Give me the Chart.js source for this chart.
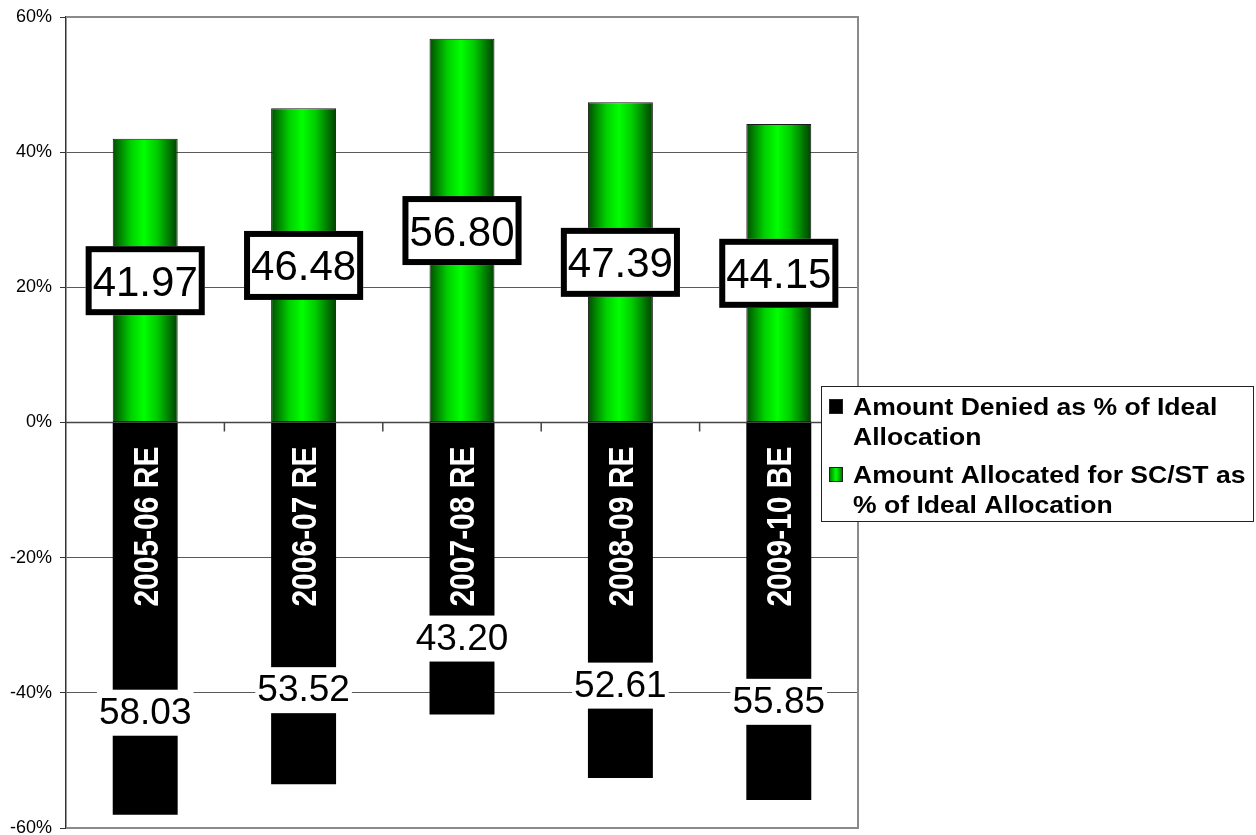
<!DOCTYPE html>
<html>
<head>
<meta charset="utf-8">
<title>Allocation for SC/ST as % of Ideal Allocation</title>
<script src="https://cdn.jsdelivr.net/npm/chart.js@4/dist/chart.umd.min.js"></script>
<style>
  html, body { margin: 0; padding: 0; background: #ffffff; }
  #wrap { width: 1256px; height: 835px; position: relative; }
</style>
</head>
<body>
<div id="wrap"><canvas id="chart" width="1256" height="835"></canvas></div>
<script>
// Budget years
const categories = ['2005-06 RE', '2006-07 RE', '2007-08 RE', '2008-09 RE', '2009-10 BE'];
// Share of the ideal allocation that was actually allocated (%)
const allocated = [41.97, 46.48, 56.80, 47.39, 44.15];
// Share of the ideal allocation that was denied (%), plotted below zero
const denied = [58.03, 53.52, 43.20, 52.61, 55.85];
// Value-axis ticks (%)
const yTicks = [-60, -40, -20, 0, 20, 40, 60];

const seriesNames = [
  ['Amount Denied as % of Ideal', 'Allocation'],
  ['Amount Allocated for SC/ST as', '% of Ideal Allocation']
];

const FONT = '"Liberation Sans", Arial, Helvetica, sans-serif';
const BAR_FRACTION = 0.41;

function greenFill(c) {
  const chart = c.chart;
  const scales = chart.scales;
  if (!chart.chartArea || !scales || !scales.x || c.type !== 'data') return '#00e000';
  const x = scales.x.getPixelForValue(c.dataIndex);
  const half = (scales.x.width / categories.length) * BAR_FRACTION / 2;
  const g = chart.ctx.createLinearGradient(x - half, 0, x + half, 0);
  g.addColorStop(0, '#004e00');
  g.addColorStop(0.28, '#00d000');
  g.addColorStop(0.48, '#00ff00');
  g.addColorStop(0.68, '#00cc00');
  g.addColorStop(1, '#004000');
  return g;
}

// Draws text horizontally stretched by sx around its anchor point
function stretchedText(ctx, text, x, y, sx, align) {
  ctx.save();
  ctx.translate(x, y);
  ctx.scale(sx, 1);
  ctx.textAlign = align || 'left';
  ctx.fillText(text, 0, 0);
  ctx.restore();
}

const decorations = {
  id: 'decorations',
  beforeDatasetsDraw(chart) {
    const { ctx, chartArea: a, scales: { x, y } } = chart;
    const y0 = y.getPixelForValue(0);
    ctx.save();
    // category axis along zero with tick marks between categories
    ctx.strokeStyle = '#444444';
    ctx.lineWidth = 1.5;
    ctx.beginPath();
    ctx.moveTo(a.left, y0);
    ctx.lineTo(a.right, y0);
    for (let i = 1; i < categories.length; i++) {
      const bx = (x.getPixelForValue(i - 1) + x.getPixelForValue(i)) / 2;
      ctx.moveTo(bx, y0);
      ctx.lineTo(bx, y0 + 9);
    }
    ctx.stroke();
    ctx.restore();
  },
  afterDatasetsDraw(chart) {
    const { ctx, chartArea: a, scales: { x, y } } = chart;
    const y0 = y.getPixelForValue(0);
    ctx.save();
    // plot frame (top, right, bottom)
    ctx.strokeStyle = '#8a8a8a';
    ctx.lineWidth = 2;
    ctx.beginPath();
    ctx.moveTo(a.left, a.top);
    ctx.lineTo(a.right, a.top);
    ctx.lineTo(a.right, a.bottom);
    ctx.lineTo(a.left, a.bottom);
    ctx.stroke();

    categories.forEach((cat, i) => {
      const cx = x.getPixelForValue(i);

      // category name, white, reading upward inside the dark bar
      ctx.save();
      ctx.fillStyle = '#ffffff';
      ctx.font = 'bold 30px ' + FONT;
      ctx.translate(cx, y0 + 24);
      ctx.scale(1.16, 1);
      ctx.rotate(-Math.PI / 2);
      ctx.textAlign = 'right';
      ctx.textBaseline = 'alphabetic';
      ctx.fillText(cat, 0, 0.716 * 30 / 2);
      ctx.restore();

      // allocated value: boxed label at the middle of the green bar
      const va = allocated[i];
      const ya = y.getPixelForValue(va / 2);
      ctx.font = '42px ' + FONT;
      const ta = va.toFixed(2);
      const wa = ctx.measureText(ta).width;
      const bw = wa + 14, bh = 69;
      ctx.fillStyle = '#ffffff';
      ctx.fillRect(cx - bw / 2, ya - bh / 2, bw, bh);
      ctx.strokeStyle = '#000000';
      ctx.lineWidth = 6;
      ctx.strokeRect(cx - bw / 2 + 3, ya - bh / 2 + 3, bw - 6, bh - 6);
      ctx.fillStyle = '#000000';
      ctx.textAlign = 'center';
      ctx.textBaseline = 'alphabetic';
      ctx.fillText(ta, cx, ya + 0.716 * 42 / 2);

      // denied value: label on a white patch near the foot of the black bar
      const vd = denied[i];
      const yd = y.getPixelForValue(-vd * 0.74);
      ctx.font = '37px ' + FONT;
      const td = vd.toFixed(2);
      const wd = ctx.measureText(td).width;
      ctx.fillStyle = '#ffffff';
      ctx.fillRect(cx - wd / 2 - 2, yd - 23, wd + 4, 46);
      ctx.fillStyle = '#000000';
      ctx.fillText(td, cx, yd + 0.716 * 37 / 2 - 2);
    });
    ctx.restore();
  },
  afterDraw(chart) {
    const { ctx } = chart;
    const lx = 821, ly = 386, lw = 433, lh = 136;
    ctx.save();
    ctx.fillStyle = '#ffffff';
    ctx.fillRect(lx, ly, lw, lh);
    ctx.strokeStyle = '#222222';
    ctx.lineWidth = 1;
    ctx.strokeRect(lx + 0.5, ly + 0.5, lw - 1, lh - 1);

    const swatches = ['#000000', null];
    const rows = [[415, 445], [483, 513]];
    seriesNames.forEach((lines, k) => {
      const top = rows[k][0] - 16;
      if (swatches[k]) {
        ctx.fillStyle = swatches[k];
      } else {
        const g = ctx.createLinearGradient(lx + 8, 0, lx + 22, 0);
        g.addColorStop(0, '#007000');
        g.addColorStop(0.5, '#00ff00');
        g.addColorStop(1, '#006000');
        ctx.fillStyle = g;
      }
      ctx.fillRect(lx + 8, top, 14, 15);
      ctx.strokeStyle = '#222222';
      ctx.lineWidth = 1;
      ctx.strokeRect(lx + 8.5, top + 0.5, 13, 14);

      ctx.fillStyle = '#000000';
      ctx.font = 'bold 23.5px ' + FONT;
      ctx.textBaseline = 'alphabetic';
      lines.forEach((t, j) => stretchedText(ctx, t, lx + 32, rows[k][j], 1.13, 'left'));
    });
    ctx.restore();
  }
};

new Chart(document.getElementById('chart'), {
  type: 'bar',
  data: {
    labels: categories,
    datasets: [
      {
        label: seriesNames[0].join(' '),
        data: denied.map(v => -v),
        backgroundColor: '#000000',
        borderWidth: 0
      },
      {
        label: seriesNames[1].join(' '),
        data: allocated,
        backgroundColor: greenFill,
        borderColor: '#1a1a1a',
        borderWidth: 1,
        borderSkipped: false
      }
    ]
  },
  options: {
    responsive: false,
    animation: false,
    events: [],
    layout: { padding: { left: 0, top: 17, right: 398, bottom: 7 } },
    datasets: { bar: { barPercentage: BAR_FRACTION, categoryPercentage: 1 } },
    plugins: { legend: { display: false }, tooltip: { enabled: false } },
    scales: {
      x: { stacked: true, display: false },
      y: {
        stacked: true,
        min: yTicks[0],
        max: yTicks[yTicks.length - 1],
        afterBuildTicks: s => { s.ticks = yTicks.map(v => ({ value: v })); },
        afterFit: s => { s.width = 66; s.paddingTop = 0; s.paddingBottom = 0; },
        ticks: {
          color: '#000000',
          font: { family: FONT, size: 18 },
          padding: 8,
          callback: v => v + '%'
        },
        grid: {
          color: '#5a5a5a',
          lineWidth: 1,
          tickLength: 6,
          tickColor: '#333333'
        },
        border: { color: '#333333', width: 1.5 }
      }
    }
  },
  plugins: [decorations]
});
</script>
</body>
</html>
